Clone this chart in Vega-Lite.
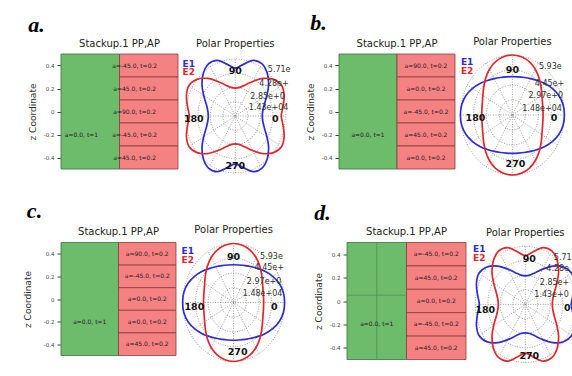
{
  "$schema": "https://vega.github.io/schema/vega-lite/v6.json",
  "background": "white",
  "padding": {"left": 23, "top": 11, "right": 0, "bottom": 0},
  "config": {
    "view": {"stroke": null},
    "font": "DejaVu Sans",
    "title": {"font": "DejaVu Sans", "fontSize": 10, "fontWeight": "normal", "color": "#222"},
    "axis": {"labelFont": "DejaVu Sans", "labelFontSize": 5.5, "labelColor": "#444", "tickColor": "#444", "tickSize": 4, "labelPadding": 3, "titleFont": "DejaVu Sans", "titleFontSize": 9, "titleFontWeight": "normal", "titleColor": "#333", "titlePadding": 6, "domain": false, "grid": false},
    "text": {"font": "DejaVu Sans"}
  },
  "datasets": {
    "layers": [
      {"k": "core", "x": 0, "x2": 1, "y": -0.5, "y2": 0.5},
      {"k": "ply", "x": 1, "x2": 2, "y": 0.3, "y2": 0.5},
      {"k": "ply", "x": 1, "x2": 2, "y": 0.1, "y2": 0.3},
      {"k": "ply", "x": 1, "x2": 2, "y": -0.1, "y2": 0.1},
      {"k": "ply", "x": 1, "x2": 2, "y": -0.3, "y2": -0.1},
      {"k": "ply", "x": 1, "x2": 2, "y": -0.5, "y2": -0.3}
    ],
    "stacklab": [
      {"p": "a", "x": 0.35, "y": -0.2, "txt": "a=0.0, t=1"},
      {"p": "a", "x": 1.26, "y": 0.4, "txt": "a=-45.0, t=0.2"},
      {"p": "a", "x": 1.26, "y": 0.2, "txt": "a=45.0, t=0.2"},
      {"p": "a", "x": 1.26, "y": 0.0, "txt": "a=90.0, t=0.2"},
      {"p": "a", "x": 1.26, "y": -0.2, "txt": "a=-45.0, t=0.2"},
      {"p": "a", "x": 1.26, "y": -0.4, "txt": "a=45.0, t=0.2"},
      {"p": "b", "x": 0.5, "y": -0.2, "txt": "a=0.0, t=1"},
      {"p": "b", "x": 1.5, "y": 0.4, "txt": "a=90.0, t=0.2"},
      {"p": "b", "x": 1.5, "y": 0.2, "txt": "a=0.0, t=0.2"},
      {"p": "b", "x": 1.5, "y": 0.0, "txt": "a=-45.0, t=0.2"},
      {"p": "b", "x": 1.5, "y": -0.2, "txt": "a=45.0, t=0.2"},
      {"p": "b", "x": 1.5, "y": -0.4, "txt": "a=0.0, t=0.2"},
      {"p": "c", "x": 0.5, "y": -0.2, "txt": "a=0.0, t=1"},
      {"p": "c", "x": 1.5, "y": 0.4, "txt": "a=90.0, t=0.2"},
      {"p": "c", "x": 1.5, "y": 0.2, "txt": "a=-45.0, t=0.2"},
      {"p": "c", "x": 1.5, "y": 0.0, "txt": "a=0.0, t=0.2"},
      {"p": "c", "x": 1.5, "y": -0.2, "txt": "a=0.0, t=0.2"},
      {"p": "c", "x": 1.5, "y": -0.4, "txt": "a=45.0, t=0.2"},
      {"p": "d", "x": 0.5, "y": -0.2, "txt": "a=0.0, t=1"},
      {"p": "d", "x": 1.5, "y": 0.4, "txt": "a=-45.0, t=0.2"},
      {"p": "d", "x": 1.5, "y": 0.2, "txt": "a=45.0, t=0.2"},
      {"p": "d", "x": 1.5, "y": 0.0, "txt": "a=0.0, t=0.2"},
      {"p": "d", "x": 1.5, "y": -0.2, "txt": "a=-45.0, t=0.2"},
      {"p": "d", "x": 1.5, "y": -0.4, "txt": "a=45.0, t=0.2"}
    ],
    "dgrid": [
      {"x": 0.5, "x2": 0.5, "y": -0.5, "y2": 0.5},
      {"x": 0, "x2": 1, "y": 0.05, "y2": 0.05}
    ],
    "rings": [
      {"r": 0.25, "t": 0}, {"r": 0.25, "t": 30}, {"r": 0.25, "t": 60}, {"r": 0.25, "t": 90}, {"r": 0.25, "t": 120}, {"r": 0.25, "t": 150}, {"r": 0.25, "t": 180}, {"r": 0.25, "t": 210}, {"r": 0.25, "t": 240}, {"r": 0.25, "t": 270}, {"r": 0.25, "t": 300}, {"r": 0.25, "t": 330},
      {"r": 0.5, "t": 0}, {"r": 0.5, "t": 30}, {"r": 0.5, "t": 60}, {"r": 0.5, "t": 90}, {"r": 0.5, "t": 120}, {"r": 0.5, "t": 150}, {"r": 0.5, "t": 180}, {"r": 0.5, "t": 210}, {"r": 0.5, "t": 240}, {"r": 0.5, "t": 270}, {"r": 0.5, "t": 300}, {"r": 0.5, "t": 330},
      {"r": 0.75, "t": 0}, {"r": 0.75, "t": 30}, {"r": 0.75, "t": 60}, {"r": 0.75, "t": 90}, {"r": 0.75, "t": 120}, {"r": 0.75, "t": 150}, {"r": 0.75, "t": 180}, {"r": 0.75, "t": 210}, {"r": 0.75, "t": 240}, {"r": 0.75, "t": 270}, {"r": 0.75, "t": 300}, {"r": 0.75, "t": 330},
      {"r": 1, "t": 0}, {"r": 1, "t": 30}, {"r": 1, "t": 60}, {"r": 1, "t": 90}, {"r": 1, "t": 120}, {"r": 1, "t": 150}, {"r": 1, "t": 180}, {"r": 1, "t": 210}, {"r": 1, "t": 240}, {"r": 1, "t": 270}, {"r": 1, "t": 300}, {"r": 1, "t": 330}
    ],
    "spokes": [
      {"x": -1, "y": 0, "x2": 1, "y2": 0},
      {"x": -0.866, "y": -0.5, "x2": 0.866, "y2": 0.5},
      {"x": -0.5, "y": -0.866, "x2": 0.5, "y2": 0.866},
      {"x": 0, "y": -1, "x2": 0, "y2": 1},
      {"x": 0.5, "y": -0.866, "x2": -0.5, "y2": 0.866},
      {"x": 0.866, "y": -0.5, "x2": -0.866, "y2": 0.5}
    ],
    "A1": [
      {"t": 0, "r": 0.54}, {"t": 10, "r": 0.56}, {"t": 20, "r": 0.62}, {"t": 30, "r": 0.73}, {"t": 40, "r": 0.87}, {"t": 50, "r": 0.99}, {"t": 60, "r": 1.06}, {"t": 70, "r": 1.04}, {"t": 80, "r": 0.92},
      {"t": 90, "r": 0.84}, {"t": 100, "r": 0.92}, {"t": 110, "r": 1.04}, {"t": 120, "r": 1.06}, {"t": 130, "r": 0.99}, {"t": 140, "r": 0.87}, {"t": 150, "r": 0.73}, {"t": 160, "r": 0.62}, {"t": 170, "r": 0.56},
      {"t": 180, "r": 0.54}, {"t": 190, "r": 0.56}, {"t": 200, "r": 0.62}, {"t": 210, "r": 0.73}, {"t": 220, "r": 0.87}, {"t": 230, "r": 0.99}, {"t": 240, "r": 1.06}, {"t": 250, "r": 1.04}, {"t": 260, "r": 0.92},
      {"t": 270, "r": 0.84}, {"t": 280, "r": 0.92}, {"t": 290, "r": 1.04}, {"t": 300, "r": 1.06}, {"t": 310, "r": 0.99}, {"t": 320, "r": 0.87}, {"t": 330, "r": 0.73}, {"t": 340, "r": 0.62}, {"t": 350, "r": 0.56}
    ],
    "A2": [
      {"t": 0, "r": 0.92}, {"t": 10, "r": 0.97}, {"t": 20, "r": 1.04}, {"t": 30, "r": 1.07}, {"t": 40, "r": 1.0}, {"t": 50, "r": 0.86}, {"t": 60, "r": 0.7}, {"t": 70, "r": 0.58}, {"t": 80, "r": 0.51},
      {"t": 90, "r": 0.49}, {"t": 100, "r": 0.51}, {"t": 110, "r": 0.58}, {"t": 120, "r": 0.7}, {"t": 130, "r": 0.86}, {"t": 140, "r": 1.0}, {"t": 150, "r": 1.07}, {"t": 160, "r": 1.04}, {"t": 170, "r": 0.97},
      {"t": 180, "r": 0.92}, {"t": 190, "r": 0.97}, {"t": 200, "r": 1.04}, {"t": 210, "r": 1.07}, {"t": 220, "r": 1.0}, {"t": 230, "r": 0.86}, {"t": 240, "r": 0.7}, {"t": 250, "r": 0.58}, {"t": 260, "r": 0.51},
      {"t": 270, "r": 0.49}, {"t": 280, "r": 0.51}, {"t": 290, "r": 0.58}, {"t": 300, "r": 0.7}, {"t": 310, "r": 0.86}, {"t": 320, "r": 1.0}, {"t": 330, "r": 1.07}, {"t": 340, "r": 1.04}, {"t": 350, "r": 0.97}
    ],
    "B1": [
      {"t": 0, "r": 1.0}, {"t": 10, "r": 0.99}, {"t": 20, "r": 0.95}, {"t": 30, "r": 0.885}, {"t": 40, "r": 0.815}, {"t": 50, "r": 0.75}, {"t": 60, "r": 0.7}, {"t": 70, "r": 0.665}, {"t": 80, "r": 0.645},
      {"t": 90, "r": 0.64}, {"t": 100, "r": 0.645}, {"t": 110, "r": 0.665}, {"t": 120, "r": 0.7}, {"t": 130, "r": 0.75}, {"t": 140, "r": 0.815}, {"t": 150, "r": 0.885}, {"t": 160, "r": 0.95}, {"t": 170, "r": 0.99},
      {"t": 180, "r": 1.0}, {"t": 190, "r": 0.99}, {"t": 200, "r": 0.95}, {"t": 210, "r": 0.885}, {"t": 220, "r": 0.815}, {"t": 230, "r": 0.75}, {"t": 240, "r": 0.7}, {"t": 250, "r": 0.665}, {"t": 260, "r": 0.645},
      {"t": 270, "r": 0.64}, {"t": 280, "r": 0.645}, {"t": 290, "r": 0.665}, {"t": 300, "r": 0.7}, {"t": 310, "r": 0.75}, {"t": 320, "r": 0.815}, {"t": 330, "r": 0.885}, {"t": 340, "r": 0.95}, {"t": 350, "r": 0.99}
    ],
    "B2": [
      {"t": 0, "r": 0.59}, {"t": 10, "r": 0.595}, {"t": 20, "r": 0.615}, {"t": 30, "r": 0.655}, {"t": 40, "r": 0.72}, {"t": 50, "r": 0.8}, {"t": 60, "r": 0.88}, {"t": 70, "r": 0.945}, {"t": 80, "r": 0.985},
      {"t": 90, "r": 1.0}, {"t": 100, "r": 0.985}, {"t": 110, "r": 0.945}, {"t": 120, "r": 0.88}, {"t": 130, "r": 0.8}, {"t": 140, "r": 0.72}, {"t": 150, "r": 0.655}, {"t": 160, "r": 0.615}, {"t": 170, "r": 0.595},
      {"t": 180, "r": 0.59}, {"t": 190, "r": 0.595}, {"t": 200, "r": 0.615}, {"t": 210, "r": 0.655}, {"t": 220, "r": 0.72}, {"t": 230, "r": 0.8}, {"t": 240, "r": 0.88}, {"t": 250, "r": 0.945}, {"t": 260, "r": 0.985},
      {"t": 270, "r": 1.0}, {"t": 280, "r": 0.985}, {"t": 290, "r": 0.945}, {"t": 300, "r": 0.88}, {"t": 310, "r": 0.8}, {"t": 320, "r": 0.72}, {"t": 330, "r": 0.655}, {"t": 340, "r": 0.615}, {"t": 350, "r": 0.595}
    ],
    "ptext": [
      {"p": "a", "k": "r", "x": 0.65, "y": 0.81, "txt": "5.71e"},
      {"p": "a", "k": "r", "x": 0.48, "y": 0.56, "txt": "4.28e+"},
      {"p": "a", "k": "r", "x": 0.3, "y": 0.34, "txt": "2.85e+0"},
      {"p": "a", "k": "r", "x": 0.27, "y": 0.135, "txt": "1.43e+04"},
      {"p": "a", "k": "ang", "x": 0, "y": 0.79, "txt": "90"},
      {"p": "a", "k": "ang", "x": 0, "y": -0.87, "txt": "270"},
      {"p": "a", "k": "ang", "x": -0.83, "y": -0.05, "txt": "180"},
      {"p": "a", "k": "ang", "x": 0.8, "y": -0.05, "txt": "0"},
      {"p": "a", "k": "E1", "x": -0.93, "y": 0.92, "txt": "E1"},
      {"p": "a", "k": "E2", "x": -0.93, "y": 0.77, "txt": "E2"},
      {"p": "b", "k": "r", "x": 0.51, "y": 0.8, "txt": "5.93e"},
      {"p": "b", "k": "r", "x": 0.43, "y": 0.52, "txt": "4.45e+"},
      {"p": "b", "k": "r", "x": 0.31, "y": 0.32, "txt": "2.97e+0"},
      {"p": "b", "k": "r", "x": 0.19, "y": 0.1, "txt": "1.48e+04"},
      {"p": "b", "k": "ang", "x": 0, "y": 0.755, "txt": "90"},
      {"p": "b", "k": "ang", "x": 0.06, "y": -0.81, "txt": "270"},
      {"p": "b", "k": "ang", "x": -0.71, "y": -0.05, "txt": "180"},
      {"p": "b", "k": "ang", "x": 0.8, "y": -0.05, "txt": "0"},
      {"p": "b", "k": "E1", "x": -0.87, "y": 0.89, "txt": "E1"},
      {"p": "b", "k": "E2", "x": -0.87, "y": 0.74, "txt": "E2"},
      {"p": "c", "k": "r", "x": 0.52, "y": 0.77, "txt": "5.93e"},
      {"p": "c", "k": "r", "x": 0.41, "y": 0.58, "txt": "4.45e+"},
      {"p": "c", "k": "r", "x": 0.26, "y": 0.35, "txt": "2.97e+0"},
      {"p": "c", "k": "r", "x": 0.18, "y": 0.14, "txt": "1.48e+04"},
      {"p": "c", "k": "ang", "x": 0, "y": 0.77, "txt": "90"},
      {"p": "c", "k": "ang", "x": 0.08, "y": -0.84, "txt": "270"},
      {"p": "c", "k": "ang", "x": -0.77, "y": -0.07, "txt": "180"},
      {"p": "c", "k": "ang", "x": 0.8, "y": -0.07, "txt": "0"},
      {"p": "c", "k": "E1", "x": -0.9, "y": 0.87, "txt": "E1"},
      {"p": "c", "k": "E2", "x": -0.9, "y": 0.72, "txt": "E2"},
      {"p": "d", "k": "r", "x": 0.57, "y": 0.8, "txt": "5.71"},
      {"p": "d", "k": "r", "x": 0.42, "y": 0.6, "txt": "4.28e"},
      {"p": "d", "k": "r", "x": 0.29, "y": 0.37, "txt": "2.85e+"},
      {"p": "d", "k": "r", "x": 0.18, "y": 0.155, "txt": "1.43e+0"},
      {"p": "d", "k": "ang", "x": 0.08, "y": 0.78, "txt": "90"},
      {"p": "d", "k": "ang", "x": 0.08, "y": -0.89, "txt": "270"},
      {"p": "d", "k": "ang", "x": -0.8, "y": -0.09, "txt": "180"},
      {"p": "d", "k": "ang", "x": 0.84, "y": -0.06, "txt": "0"},
      {"p": "d", "k": "E1", "x": -0.92, "y": 0.95, "txt": "E1"},
      {"p": "d", "k": "E2", "x": -0.92, "y": 0.79, "txt": "E2"}
    ]
  },
  "spacing": 20.5,
  "vconcat": [
    {
      "spacing": 15,
      "hconcat": [
        {
          "title": {"text": "a.", "anchor": "start", "font": "Liberation Serif", "fontSize": 22, "fontStyle": "italic", "fontWeight": "bold", "color": "#000", "offset": 2},
          "bounds": "flush", "spacing": 7.3,
          "hconcat": [
            {
              "width": 117, "height": 115,
              "title": {"text": "Stackup.1 PP,AP", "offset": 5},
              "encoding": {
                "x": {"field": "x", "type": "quantitative", "scale": {"domain": [0, 2], "nice": false, "zero": false}, "axis": null},
                "y": {"field": "y", "type": "quantitative", "scale": {"domain": [-0.5, 0.5], "nice": false, "zero": false}, "axis": {"title": "z Coordinate", "values": [-0.4, -0.2, 0, 0.2, 0.4], "labelExpr": "datum.value == 0 ? '0' : (datum.value < 0 ? '-' + format(-datum.value, '.1f') : format(datum.value, '.1f'))"}}
              },
              "layer": [
                {"data": {"name": "layers"}, "mark": {"type": "rect", "strokeWidth": 0.8},
                 "encoding": {"x2": {"field": "x2"}, "y2": {"field": "y2"},
                   "fill": {"field": "k", "type": "nominal", "scale": {"domain": ["core", "ply"], "range": ["#6cbc6c", "#f58282"]}, "legend": null},
                   "stroke": {"field": "k", "type": "nominal", "scale": {"domain": ["core", "ply"], "range": ["#3e6e3e", "#8c3c3c"]}, "legend": null}}},
                {"data": {"name": "stacklab"}, "transform": [{"filter": "datum.p == 'a'"}], "mark": {"type": "text", "fontSize": 6, "color": "#2a1a1a"}, "encoding": {"text": {"field": "txt"}}}
              ]
            },
            {
              "width": 100, "height": 119,
              "title": {"text": "Polar Properties", "offset": 5},
              "encoding": {
                "x": {"field": "x", "type": "quantitative", "scale": {"domain": [-1, 1], "nice": false, "zero": false}, "axis": null},
                "y": {"field": "y", "type": "quantitative", "scale": {"domain": [-1, 1.088], "nice": false, "zero": false}, "axis": null}
              },
              "layer": [
                {"data": {"name": "rings"}, "transform": [{"calculate": "datum.r*cos(datum.t*PI/180)", "as": "x"}, {"calculate": "datum.r*sin(datum.t*PI/180)", "as": "y"}], "mark": {"type": "line", "interpolate": "cardinal-closed", "stroke": "#777", "strokeWidth": 0.7, "strokeDash": [1, 1.5]}, "encoding": {"detail": {"field": "r", "type": "nominal"}, "order": {"field": "t", "type": "quantitative"}}},
                {"data": {"name": "spokes"}, "mark": {"type": "rule", "stroke": "#777", "strokeWidth": 0.7, "strokeDash": [1, 1.5]}, "encoding": {"x2": {"field": "x2"}, "y2": {"field": "y2"}}},
                {"data": {"name": "A1"}, "transform": [{"calculate": "datum.r*cos(datum.t*PI/180)", "as": "x"}, {"calculate": "datum.r*sin(datum.t*PI/180)", "as": "y"}], "mark": {"type": "line", "interpolate": "cardinal-closed", "stroke": "#2c2cd8", "strokeWidth": 1.7}, "encoding": {"order": {"field": "t", "type": "quantitative"}}},
                {"data": {"name": "A2"}, "transform": [{"calculate": "datum.r*cos(datum.t*PI/180)", "as": "x"}, {"calculate": "datum.r*sin(datum.t*PI/180)", "as": "y"}], "mark": {"type": "line", "interpolate": "cardinal-closed", "stroke": "#e0282c", "strokeWidth": 1.7}, "encoding": {"order": {"field": "t", "type": "quantitative"}}},
                {"data": {"name": "ptext"}, "transform": [{"filter": "datum.p == 'a' && datum.k == 'r'"}], "mark": {"type": "text", "align": "left", "fontSize": 8, "color": "#333"}, "encoding": {"text": {"field": "txt"}}},
                {"data": {"name": "ptext"}, "transform": [{"filter": "datum.p == 'a' && datum.k == 'ang'"}], "mark": {"type": "text", "fontSize": 9.5, "fontWeight": "bold", "color": "#111"}, "encoding": {"text": {"field": "txt"}}},
                {"data": {"name": "ptext"}, "transform": [{"filter": "datum.p == 'a' && datum.k == 'E1'"}], "mark": {"type": "text", "fontSize": 9, "fontWeight": "bold", "color": "#2c2cd8"}, "encoding": {"text": {"field": "txt"}}},
                {"data": {"name": "ptext"}, "transform": [{"filter": "datum.p == 'a' && datum.k == 'E2'"}], "mark": {"type": "text", "fontSize": 9, "fontWeight": "bold", "color": "#e0282c"}, "encoding": {"text": {"field": "txt"}}}
              ]
            }
          ]
        },
        {
          "title": {"text": "b.", "anchor": "start", "font": "Liberation Serif", "fontSize": 22, "fontStyle": "italic", "fontWeight": "bold", "color": "#000", "offset": 2, "dx": 4},
          "bounds": "flush", "spacing": 5.4,
          "hconcat": [
            {
              "width": 116, "height": 115,
              "title": {"text": "Stackup.1 PP,AP", "offset": 5},
              "encoding": {
                "x": {"field": "x", "type": "quantitative", "scale": {"domain": [0, 2], "nice": false, "zero": false}, "axis": null},
                "y": {"field": "y", "type": "quantitative", "scale": {"domain": [-0.5, 0.5], "nice": false, "zero": false}, "axis": {"title": "z Coordinate", "values": [-0.4, -0.2, 0, 0.2, 0.4], "labelExpr": "datum.value == 0 ? '0' : (datum.value < 0 ? '-' + format(-datum.value, '.1f') : format(datum.value, '.1f'))"}}
              },
              "layer": [
                {"data": {"name": "layers"}, "mark": {"type": "rect", "strokeWidth": 0.8},
                 "encoding": {"x2": {"field": "x2"}, "y2": {"field": "y2"},
                   "fill": {"field": "k", "type": "nominal", "scale": {"domain": ["core", "ply"], "range": ["#6cbc6c", "#f58282"]}, "legend": null},
                   "stroke": {"field": "k", "type": "nominal", "scale": {"domain": ["core", "ply"], "range": ["#3e6e3e", "#8c3c3c"]}, "legend": null}}},
                {"data": {"name": "stacklab"}, "transform": [{"filter": "datum.p == 'b'"}], "mark": {"type": "text", "fontSize": 6, "color": "#2a1a1a"}, "encoding": {"text": {"field": "txt"}}}
              ]
            },
            {
              "width": 104, "height": 121,
              "title": {"text": "Polar Properties", "offset": 5},
              "encoding": {
                "x": {"field": "x", "type": "quantitative", "scale": {"domain": [-1, 1], "nice": false, "zero": false}, "axis": null},
                "y": {"field": "y", "type": "quantitative", "scale": {"domain": [-1, 1.017], "nice": false, "zero": false}, "axis": null}
              },
              "layer": [
                {"data": {"name": "rings"}, "transform": [{"calculate": "datum.r*cos(datum.t*PI/180)", "as": "x"}, {"calculate": "datum.r*sin(datum.t*PI/180)", "as": "y"}], "mark": {"type": "line", "interpolate": "cardinal-closed", "stroke": "#777", "strokeWidth": 0.7, "strokeDash": [1, 1.5]}, "encoding": {"detail": {"field": "r", "type": "nominal"}, "order": {"field": "t", "type": "quantitative"}}},
                {"data": {"name": "spokes"}, "mark": {"type": "rule", "stroke": "#777", "strokeWidth": 0.7, "strokeDash": [1, 1.5]}, "encoding": {"x2": {"field": "x2"}, "y2": {"field": "y2"}}},
                {"data": {"name": "B1"}, "transform": [{"calculate": "datum.r*cos(datum.t*PI/180)", "as": "x"}, {"calculate": "datum.r*sin(datum.t*PI/180)", "as": "y"}], "mark": {"type": "line", "interpolate": "cardinal-closed", "stroke": "#2c2cd8", "strokeWidth": 1.7}, "encoding": {"order": {"field": "t", "type": "quantitative"}}},
                {"data": {"name": "B2"}, "transform": [{"calculate": "datum.r*cos(datum.t*PI/180)", "as": "x"}, {"calculate": "datum.r*sin(datum.t*PI/180)", "as": "y"}], "mark": {"type": "line", "interpolate": "cardinal-closed", "stroke": "#e0282c", "strokeWidth": 1.7}, "encoding": {"order": {"field": "t", "type": "quantitative"}}},
                {"data": {"name": "ptext"}, "transform": [{"filter": "datum.p == 'b' && datum.k == 'r'"}], "mark": {"type": "text", "align": "left", "fontSize": 8, "color": "#333"}, "encoding": {"text": {"field": "txt"}}},
                {"data": {"name": "ptext"}, "transform": [{"filter": "datum.p == 'b' && datum.k == 'ang'"}], "mark": {"type": "text", "fontSize": 9.5, "fontWeight": "bold", "color": "#111"}, "encoding": {"text": {"field": "txt"}}},
                {"data": {"name": "ptext"}, "transform": [{"filter": "datum.p == 'b' && datum.k == 'E1'"}], "mark": {"type": "text", "fontSize": 9, "fontWeight": "bold", "color": "#2c2cd8"}, "encoding": {"text": {"field": "txt"}}},
                {"data": {"name": "ptext"}, "transform": [{"filter": "datum.p == 'b' && datum.k == 'E2'"}], "mark": {"type": "text", "fontSize": 9, "fontWeight": "bold", "color": "#e0282c"}, "encoding": {"text": {"field": "txt"}}}
              ]
            }
          ]
        }
      ]
    },
    {
      "spacing": 26,
      "hconcat": [
        {
          "title": {"text": "c.", "anchor": "start", "font": "Liberation Serif", "fontSize": 22, "fontStyle": "italic", "fontWeight": "bold", "color": "#000", "offset": 2, "dx": 3},
          "bounds": "flush", "spacing": 6.6,
          "hconcat": [
            {
              "width": 115, "height": 113,
              "title": {"text": "Stackup.1 PP,AP", "offset": 5},
              "encoding": {
                "x": {"field": "x", "type": "quantitative", "scale": {"domain": [0, 2], "nice": false, "zero": false}, "axis": null},
                "y": {"field": "y", "type": "quantitative", "scale": {"domain": [-0.5, 0.5], "nice": false, "zero": false}, "axis": {"title": "z Coordinate", "titlePadding": 10.4, "values": [-0.4, -0.2, 0, 0.2, 0.4], "labelExpr": "datum.value == 0 ? '0' : (datum.value < 0 ? '-' + format(-datum.value, '.1f') : format(datum.value, '.1f'))"}}
              },
              "layer": [
                {"data": {"name": "layers"}, "mark": {"type": "rect", "strokeWidth": 0.8},
                 "encoding": {"x2": {"field": "x2"}, "y2": {"field": "y2"},
                   "fill": {"field": "k", "type": "nominal", "scale": {"domain": ["core", "ply"], "range": ["#6cbc6c", "#f58282"]}, "legend": null},
                   "stroke": {"field": "k", "type": "nominal", "scale": {"domain": ["core", "ply"], "range": ["#3e6e3e", "#8c3c3c"]}, "legend": null}}},
                {"data": {"name": "stacklab"}, "transform": [{"filter": "datum.p == 'c'"}], "mark": {"type": "text", "fontSize": 6, "color": "#2a1a1a"}, "encoding": {"text": {"field": "txt"}}}
              ]
            },
            {
              "width": 102, "height": 119,
              "title": {"text": "Polar Properties", "offset": 5},
              "encoding": {
                "x": {"field": "x", "type": "quantitative", "scale": {"domain": [-1, 1], "nice": false, "zero": false}, "axis": null},
                "y": {"field": "y", "type": "quantitative", "scale": {"domain": [-1, 1.017], "nice": false, "zero": false}, "axis": null}
              },
              "layer": [
                {"data": {"name": "rings"}, "transform": [{"calculate": "datum.r*cos(datum.t*PI/180)", "as": "x"}, {"calculate": "datum.r*sin(datum.t*PI/180)", "as": "y"}], "mark": {"type": "line", "interpolate": "cardinal-closed", "stroke": "#777", "strokeWidth": 0.7, "strokeDash": [1, 1.5]}, "encoding": {"detail": {"field": "r", "type": "nominal"}, "order": {"field": "t", "type": "quantitative"}}},
                {"data": {"name": "spokes"}, "mark": {"type": "rule", "stroke": "#777", "strokeWidth": 0.7, "strokeDash": [1, 1.5]}, "encoding": {"x2": {"field": "x2"}, "y2": {"field": "y2"}}},
                {"data": {"name": "B1"}, "transform": [{"calculate": "datum.r*cos(datum.t*PI/180)", "as": "x"}, {"calculate": "datum.r*sin(datum.t*PI/180)", "as": "y"}], "mark": {"type": "line", "interpolate": "cardinal-closed", "stroke": "#2c2cd8", "strokeWidth": 1.7}, "encoding": {"order": {"field": "t", "type": "quantitative"}}},
                {"data": {"name": "B2"}, "transform": [{"calculate": "datum.r*cos(datum.t*PI/180)", "as": "x"}, {"calculate": "datum.r*sin(datum.t*PI/180)", "as": "y"}], "mark": {"type": "line", "interpolate": "cardinal-closed", "stroke": "#e0282c", "strokeWidth": 1.7}, "encoding": {"order": {"field": "t", "type": "quantitative"}}},
                {"data": {"name": "ptext"}, "transform": [{"filter": "datum.p == 'c' && datum.k == 'r'"}], "mark": {"type": "text", "align": "left", "fontSize": 8, "color": "#333"}, "encoding": {"text": {"field": "txt"}}},
                {"data": {"name": "ptext"}, "transform": [{"filter": "datum.p == 'c' && datum.k == 'ang'"}], "mark": {"type": "text", "fontSize": 9.5, "fontWeight": "bold", "color": "#111"}, "encoding": {"text": {"field": "txt"}}},
                {"data": {"name": "ptext"}, "transform": [{"filter": "datum.p == 'c' && datum.k == 'E1'"}], "mark": {"type": "text", "fontSize": 9, "fontWeight": "bold", "color": "#2c2cd8"}, "encoding": {"text": {"field": "txt"}}},
                {"data": {"name": "ptext"}, "transform": [{"filter": "datum.p == 'c' && datum.k == 'E2'"}], "mark": {"type": "text", "fontSize": 9, "fontWeight": "bold", "color": "#e0282c"}, "encoding": {"text": {"field": "txt"}}}
              ]
            }
          ]
        },
        {
          "title": {"text": "d.", "anchor": "start", "font": "Liberation Serif", "fontSize": 22, "fontStyle": "italic", "fontWeight": "bold", "color": "#000", "offset": 2},
          "bounds": "flush", "spacing": 9.3,
          "hconcat": [
            {
              "width": 119, "height": 117,
              "title": {"text": "Stackup.1 PP,AP", "offset": 5},
              "encoding": {
                "x": {"field": "x", "type": "quantitative", "scale": {"domain": [0, 2], "nice": false, "zero": false}, "axis": null},
                "y": {"field": "y", "type": "quantitative", "scale": {"domain": [-0.5, 0.5], "nice": false, "zero": false}, "axis": {"title": "z Coordinate", "values": [-0.4, -0.2, 0, 0.2, 0.4], "labelExpr": "datum.value == 0 ? '0' : (datum.value < 0 ? '-' + format(-datum.value, '.1f') : format(datum.value, '.1f'))"}}
              },
              "layer": [
                {"data": {"name": "layers"}, "mark": {"type": "rect", "strokeWidth": 0.8},
                 "encoding": {"x2": {"field": "x2"}, "y2": {"field": "y2"},
                   "fill": {"field": "k", "type": "nominal", "scale": {"domain": ["core", "ply"], "range": ["#6cbc6c", "#f58282"]}, "legend": null},
                   "stroke": {"field": "k", "type": "nominal", "scale": {"domain": ["core", "ply"], "range": ["#3e6e3e", "#8c3c3c"]}, "legend": null}}},
                {"data": {"name": "dgrid"}, "mark": {"type": "rule", "stroke": "#4f8f4f", "strokeWidth": 0.8}, "encoding": {"x2": {"field": "x2"}, "y2": {"field": "y2"}}},
                {"data": {"name": "stacklab"}, "transform": [{"filter": "datum.p == 'd'"}], "mark": {"type": "text", "fontSize": 6, "color": "#2a1a1a"}, "encoding": {"text": {"field": "txt"}}}
              ]
            },
            {
              "width": 100, "height": 120,
              "title": {"text": "Polar Properties", "offset": 5},
              "encoding": {
                "x": {"field": "x", "type": "quantitative", "scale": {"domain": [-1, 1], "nice": false, "zero": false}, "axis": null},
                "y": {"field": "y", "type": "quantitative", "scale": {"domain": [-1, 1.064], "nice": false, "zero": false}, "axis": null}
              },
              "layer": [
                {"data": {"name": "rings"}, "transform": [{"calculate": "datum.r*cos(datum.t*PI/180)", "as": "x"}, {"calculate": "datum.r*sin(datum.t*PI/180)", "as": "y"}], "mark": {"type": "line", "interpolate": "cardinal-closed", "stroke": "#777", "strokeWidth": 0.7, "strokeDash": [1, 1.5]}, "encoding": {"detail": {"field": "r", "type": "nominal"}, "order": {"field": "t", "type": "quantitative"}}},
                {"data": {"name": "spokes"}, "mark": {"type": "rule", "stroke": "#777", "strokeWidth": 0.7, "strokeDash": [1, 1.5]}, "encoding": {"x2": {"field": "x2"}, "y2": {"field": "y2"}}},
                {"data": {"name": "A2"}, "transform": [{"calculate": "datum.r*cos(datum.t*PI/180)", "as": "x"}, {"calculate": "datum.r*sin(datum.t*PI/180)", "as": "y"}], "mark": {"type": "line", "interpolate": "cardinal-closed", "stroke": "#2c2cd8", "strokeWidth": 1.7}, "encoding": {"order": {"field": "t", "type": "quantitative"}}},
                {"data": {"name": "A1"}, "transform": [{"calculate": "datum.r*cos(datum.t*PI/180)", "as": "x"}, {"calculate": "datum.r*sin(datum.t*PI/180)", "as": "y"}], "mark": {"type": "line", "interpolate": "cardinal-closed", "stroke": "#e0282c", "strokeWidth": 1.7}, "encoding": {"order": {"field": "t", "type": "quantitative"}}},
                {"data": {"name": "ptext"}, "transform": [{"filter": "datum.p == 'd' && datum.k == 'r'"}], "mark": {"type": "text", "align": "left", "fontSize": 8, "color": "#333"}, "encoding": {"text": {"field": "txt"}}},
                {"data": {"name": "ptext"}, "transform": [{"filter": "datum.p == 'd' && datum.k == 'ang'"}], "mark": {"type": "text", "fontSize": 9.5, "fontWeight": "bold", "color": "#111"}, "encoding": {"text": {"field": "txt"}}},
                {"data": {"name": "ptext"}, "transform": [{"filter": "datum.p == 'd' && datum.k == 'E1'"}], "mark": {"type": "text", "fontSize": 9, "fontWeight": "bold", "color": "#2c2cd8"}, "encoding": {"text": {"field": "txt"}}},
                {"data": {"name": "ptext"}, "transform": [{"filter": "datum.p == 'd' && datum.k == 'E2'"}], "mark": {"type": "text", "fontSize": 9, "fontWeight": "bold", "color": "#e0282c"}, "encoding": {"text": {"field": "txt"}}}
              ]
            }
          ]
        }
      ]
    }
  ]
}
